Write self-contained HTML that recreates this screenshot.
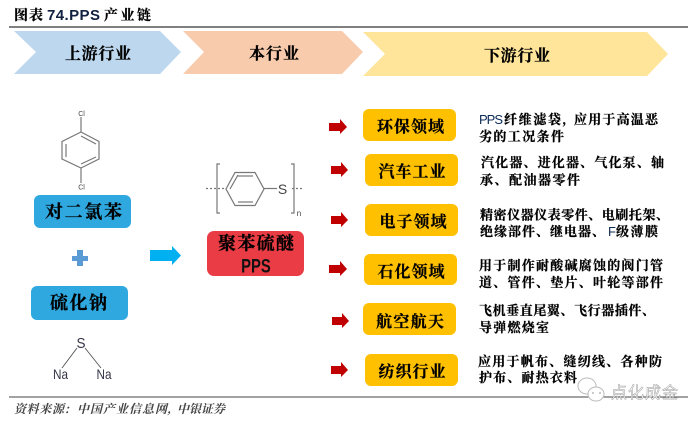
<!DOCTYPE html>
<html><head><meta charset="utf-8">
<style>
html,body{margin:0;padding:0;background:#fff;width:700px;height:422px;overflow:hidden}
svg{display:block}
.s{font-family:"Noto Serif CJK SC",serif;font-weight:700;fill:#000;stroke:#000;stroke-width:.25}
.a{font-family:"Liberation Sans",sans-serif;fill:#444}
.l{font-family:"Liberation Sans",sans-serif;fill:#0b2a55;font-size:13px}
.t{font-size:13px}
.b{font-size:16px;text-anchor:middle}
.m{font-size:18px;text-anchor:middle}
.f{font-family:"Noto Serif CJK SC",serif;font-size:12px;font-style:italic;font-weight:700;fill:#444}
</style></head><body>
<svg width="700" height="422" viewBox="0 0 700 422" xmlns="http://www.w3.org/2000/svg">
<rect width="700" height="422" fill="#fff"/>
<text x="14" y="20" class="s" font-size="14" textLength="29">图表</text>
<text x="47" y="20" font-size="15" font-weight="700" fill="#102040" style="font-family:'Liberation Sans',sans-serif" textLength="53">74.PPS</text>
<text x="104" y="20" class="s" font-size="14" textLength="47">产业链</text>
<rect x="9" y="26" width="679" height="2" fill="#808080"/>

<polygon points="14,31 160,31 181,52 160,74 14,74 36,52" fill="#bdd7ee"/>
<polygon points="183,31 342,31 363,52 342,74 183,74 204,52" fill="#f8cbad"/>
<polygon points="363,32 647,32 668,54 647,76 363,76 385,54" fill="#fee599"/>
<text x="98" y="59" class="s b" textLength="66">上游行业</text>
<text x="274" y="59" class="s b" textLength="50">本行业</text>
<text x="517" y="61" class="s b" textLength="66">下游行业</text>

<!-- dichlorobenzene -->
<g fill="none" stroke="#777" stroke-width="1.200">
<polygon points="81,132 99,141.500 99,159 81,168 62,159 62,141.500"/>
<line x1="81" y1="117" x2="81" y2="132"/><line x1="81" y1="168" x2="81" y2="183"/>
<line x1="66" y1="144" x2="66" y2="157"/><line x1="81" y1="136" x2="96" y2="144"/><line x1="81" y1="164" x2="96" y2="157"/>
</g>
<text x="81.500" y="116" class="a" font-size="7" text-anchor="middle">Cl</text>
<text x="81.500" y="189.500" class="a" font-size="7" text-anchor="middle">Cl</text>
<rect x="34" y="195" width="97" height="33" rx="6" fill="#2fa8e0"/>
<text x="83.500" y="218" class="s m" textLength="77">对二氯苯</text>

<path d="M77 250h6v6h5v5h-5v5h-6v-5h-5v-5h5z" fill="#5b9bd5"/>
<polygon points="150,250 172,250 172,246 181,255.500 172,265 172,261 150,261" fill="#00b0f0"/>

<rect x="31" y="286" width="97" height="34" rx="6" fill="#2fa8e0"/>
<text x="78.500" y="309" class="s m" textLength="57">硫化钠</text>

<text x="81" y="348" class="l" style="font-size:15px;fill:#334" text-anchor="middle" textLength="9" lengthAdjust="spacingAndGlyphs">S</text>
<text x="60.500" y="379" class="l" style="font-size:14px;fill:#334" text-anchor="middle" textLength="15" lengthAdjust="spacingAndGlyphs">Na</text>
<text x="104" y="379" class="l" style="font-size:14px;fill:#334" text-anchor="middle" textLength="15" lengthAdjust="spacingAndGlyphs">Na</text>
<line x1="77" y1="348" x2="62" y2="368" stroke="#555" stroke-width="0.900"/>
<line x1="85" y1="348" x2="101" y2="368" stroke="#555" stroke-width="0.900"/>

<!-- PPS structure -->
<g fill="none" stroke="#777" stroke-width="1.200">
<path d="M220 164h-3v49h3"/><path d="M291 164h3v49h-3"/>
<polygon points="226,189 235,172.500 255,172.500 264,189 255,205.500 235,205.500"/>
<line x1="238" y1="176" x2="253" y2="176"/><line x1="238" y1="202" x2="253" y2="202"/><line x1="230" y1="189" x2="238" y2="175"/>
<line x1="264" y1="188.500" x2="277" y2="188.500"/>
<line x1="206" y1="188.500" x2="226" y2="188.500" stroke-dasharray="2 2"/>
<line x1="292" y1="188.500" x2="303" y2="188.500" stroke-dasharray="2 2"/>
</g>
<text x="282.500" y="194" class="a" font-size="14" text-anchor="middle">S</text>
<text x="299" y="216" class="a" font-size="8" text-anchor="middle">n</text>

<rect x="207" y="231" width="97" height="45" rx="7" fill="#e93c44"/>
<text x="256" y="249.500" class="s m" textLength="76">聚苯硫醚</text>
<text transform="translate(256,272.500) scale(.78,1)" style="font-family:'Liberation Sans',sans-serif;font-weight:700;font-size:19px;fill:#111" text-anchor="middle">PPS</text>

<!-- red arrows -->
<g fill="#c00000">
<polygon points="329,123 340,123 340,119 347,127 340,134 340,131 329,131"/>
<polygon points="331,166 341,166 341,162 348,170 341,177 341,174 331,174"/>
<polygon points="331,216 341,216 341,212 348,220 341,227 341,224 331,224"/>
<polygon points="329,265 340,265 340,261 347,269 340,276 340,273 329,273"/>
<polygon points="332,317 342,317 342,313 349,321 342,328 342,325 332,325"/>
<polygon points="331,366 341,366 341,362 348,370 341,377 341,374 331,374"/>
</g>

<!-- orange boxes -->
<g fill="#ffc000">
<rect x="363" y="109" width="93" height="32" rx="6"/>
<rect x="365" y="154" width="93" height="32" rx="6"/>
<rect x="365" y="204" width="93" height="32" rx="6"/>
<rect x="364" y="254" width="93" height="31" rx="6"/>
<rect x="363" y="303" width="93" height="32" rx="6"/>
<rect x="365" y="354" width="93" height="32" rx="6"/>
</g>
<text x="410.500" y="132" class="s b" textLength="67">环保领域</text>
<text x="412" y="177" class="s b" textLength="67">汽车工业</text>
<text x="413" y="227" class="s b" textLength="67">电子领域</text>
<text x="411" y="277" class="s b" textLength="67">石化领域</text>
<text x="410" y="327" class="s b" textLength="68">航空航天</text>
<text x="412" y="377" class="s b" textLength="67">纺织行业</text>

<!-- descriptions -->
<text x="479" y="124" class="l" textLength="24">PPS</text>
<text x="504" y="124" class="s t" textLength="57">纤维滤袋</text>
<text x="562" y="124" class="s t">,</text>
<text x="574" y="124" class="s t" textLength="84">应用于高温恶</text>
<text x="479" y="141" class="s t" textLength="85">劣的工况条件</text>
<text x="481" y="167" class="s t" textLength="183">汽化器、进化器、气化泵、轴</text>
<text x="480" y="184.500" class="s t" textLength="100">承、配油器零件</text>
<text x="480" y="219.500" class="s t" textLength="189">精密仪器仪表零件、电刷托架、</text>
<text x="480" y="236" class="s t" textLength="125">绝缘部件、继电器、</text>
<text x="608" y="236" class="l" textLength="7">F</text>
<text x="616" y="236" class="s t" textLength="42">级薄膜</text>
<text x="479" y="270" class="s t" textLength="184">用于制作耐酸碱腐蚀的阀门管</text>
<text x="479" y="287" class="s t" textLength="184">道、管件、垫片、叶轮等部件</text>
<text x="479" y="315" class="s t" textLength="176">飞机垂直尾翼、飞行器插件、</text>
<text x="479" y="332" class="s t" textLength="70">导弹燃烧室</text>
<text x="478" y="366" class="s t" textLength="184">应用于帆布、缝纫线、各种防</text>
<text x="479" y="382" class="s t" textLength="98">护布、耐热衣料</text>

<!-- footer -->
<rect x="9" y="396.500" width="679" height="1" fill="#444"/>
<text x="14" y="413" class="f" textLength="50">资料来源</text>
<text x="65" y="413" class="f">:</text>
<text x="77" y="413" class="f" textLength="90">中国产业信息网</text>
<text x="167" y="413" class="f">,</text>
<text x="177" y="413" class="f" textLength="48">中银证券</text>

<!-- watermark -->
<g fill="#fff" stroke="#bbb" stroke-width="1">
<ellipse cx="587" cy="386" rx="9" ry="8"/>
<ellipse cx="596" cy="394" rx="8" ry="7"/>
</g>
<circle cx="593" cy="393" r="1" fill="#bbb"/><circle cx="600" cy="393" r="1" fill="#bbb"/>
<text x="611" y="398" font-size="16" fill="#fff" stroke="#999" stroke-width="0.500" style="font-family:'Noto Sans CJK SC',sans-serif" textLength="67">点化成金</text>
</svg>
</body></html>
